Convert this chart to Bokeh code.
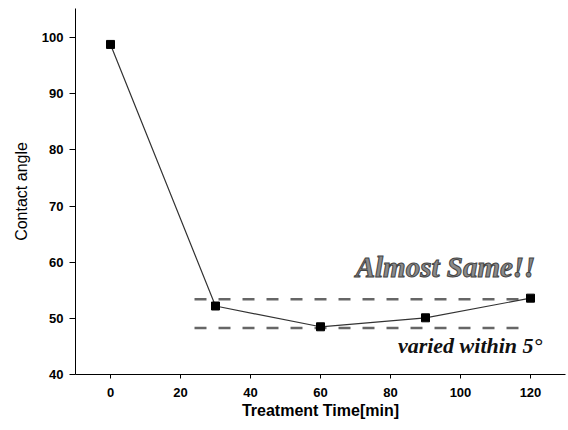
from bokeh.plotting import figure
from bokeh.models import Range1d, Label
from bokeh.embed import file_html
from bokeh.resources import INLINE

# data
time_min = [0, 30, 60, 90, 120]
contact_angle = [98.8, 52.2, 48.5, 50.1, 53.6]
band_x = [24, 120]
band_upper = 53.4
band_lower = 48.3
x_ticks = [0, 20, 40, 60, 80, 100, 120]
y_ticks = [40, 50, 60, 70, 80, 90, 100]

p = figure(width=568, height=430, output_backend="svg", toolbar_location=None,
           x_range=Range1d(-10, 130), y_range=Range1d(40, 105.2),
           min_border_left=75, min_border_right=3, min_border_top=8, min_border_bottom=56)
p.outline_line_color = None
p.grid.visible = False
p.background_fill_color = "white"
p.border_fill_color = "white"

# reference band (dashed)
p.line(band_x, [band_upper, band_upper], line_color="#666666", line_width=2.5, line_dash="12 12")
p.line(band_x, [band_lower, band_lower], line_color="#666666", line_width=2.5, line_dash="12 12")

p.line(time_min, contact_angle, line_color="#333333", line_width=1.2)
p.scatter(time_min, contact_angle, marker="square", size=8, fill_color="black", line_color="black")

p.add_layout(Label(x=121.4, y=59.2, text="Almost Same!!", text_align="right", text_baseline="middle",
                   text_font="Liberation Serif", text_font_style="bold italic", text_font_size="29px",
                   text_color="#8a8a8a", text_outline_color="#444444"))
p.add_layout(Label(x=123.4, y=45.1, text="varied within 5°", text_align="right", text_baseline="middle",
                   text_font="Liberation Serif", text_font_style="bold italic", text_font_size="22px",
                   text_color="#111111"))

for ax in (p.xaxis[0], p.yaxis[0]):
    ax.axis_line_color = "black"
    ax.axis_line_width = 1
    ax.major_tick_line_color = "black"
    ax.minor_tick_line_color = "black"
    ax.major_tick_in = 0
    ax.minor_tick_in = 0
    ax.minor_tick_out = 3
    ax.major_label_text_font = "Liberation Sans"
    ax.major_label_text_font_style = "bold"
    ax.major_label_text_font_size = "13px"
    ax.major_label_text_color = "black"
    ax.axis_label_text_font = "Liberation Sans"
    ax.axis_label_text_font_size = "16px"
    ax.axis_label_text_color = "black"

p.xaxis.ticker = x_ticks
p.xaxis[0].ticker.num_minor_ticks = 2
p.yaxis.ticker = y_ticks
p.yaxis[0].ticker.num_minor_ticks = 2
p.xaxis.major_tick_out = 4
p.yaxis.major_tick_out = 6
p.xaxis.major_label_standoff = 9
p.yaxis.major_label_standoff = 6
p.xaxis.axis_label = "Treatment Time[min]"
p.yaxis.axis_label = "Contact angle"
p.xaxis.axis_label_text_font_style = "bold"
p.yaxis.axis_label_text_font_style = "normal"
p.xaxis.axis_label_standoff = 2
p.yaxis.axis_label_standoff = 9

open("out.html", "w").write(file_html(p, INLINE))
